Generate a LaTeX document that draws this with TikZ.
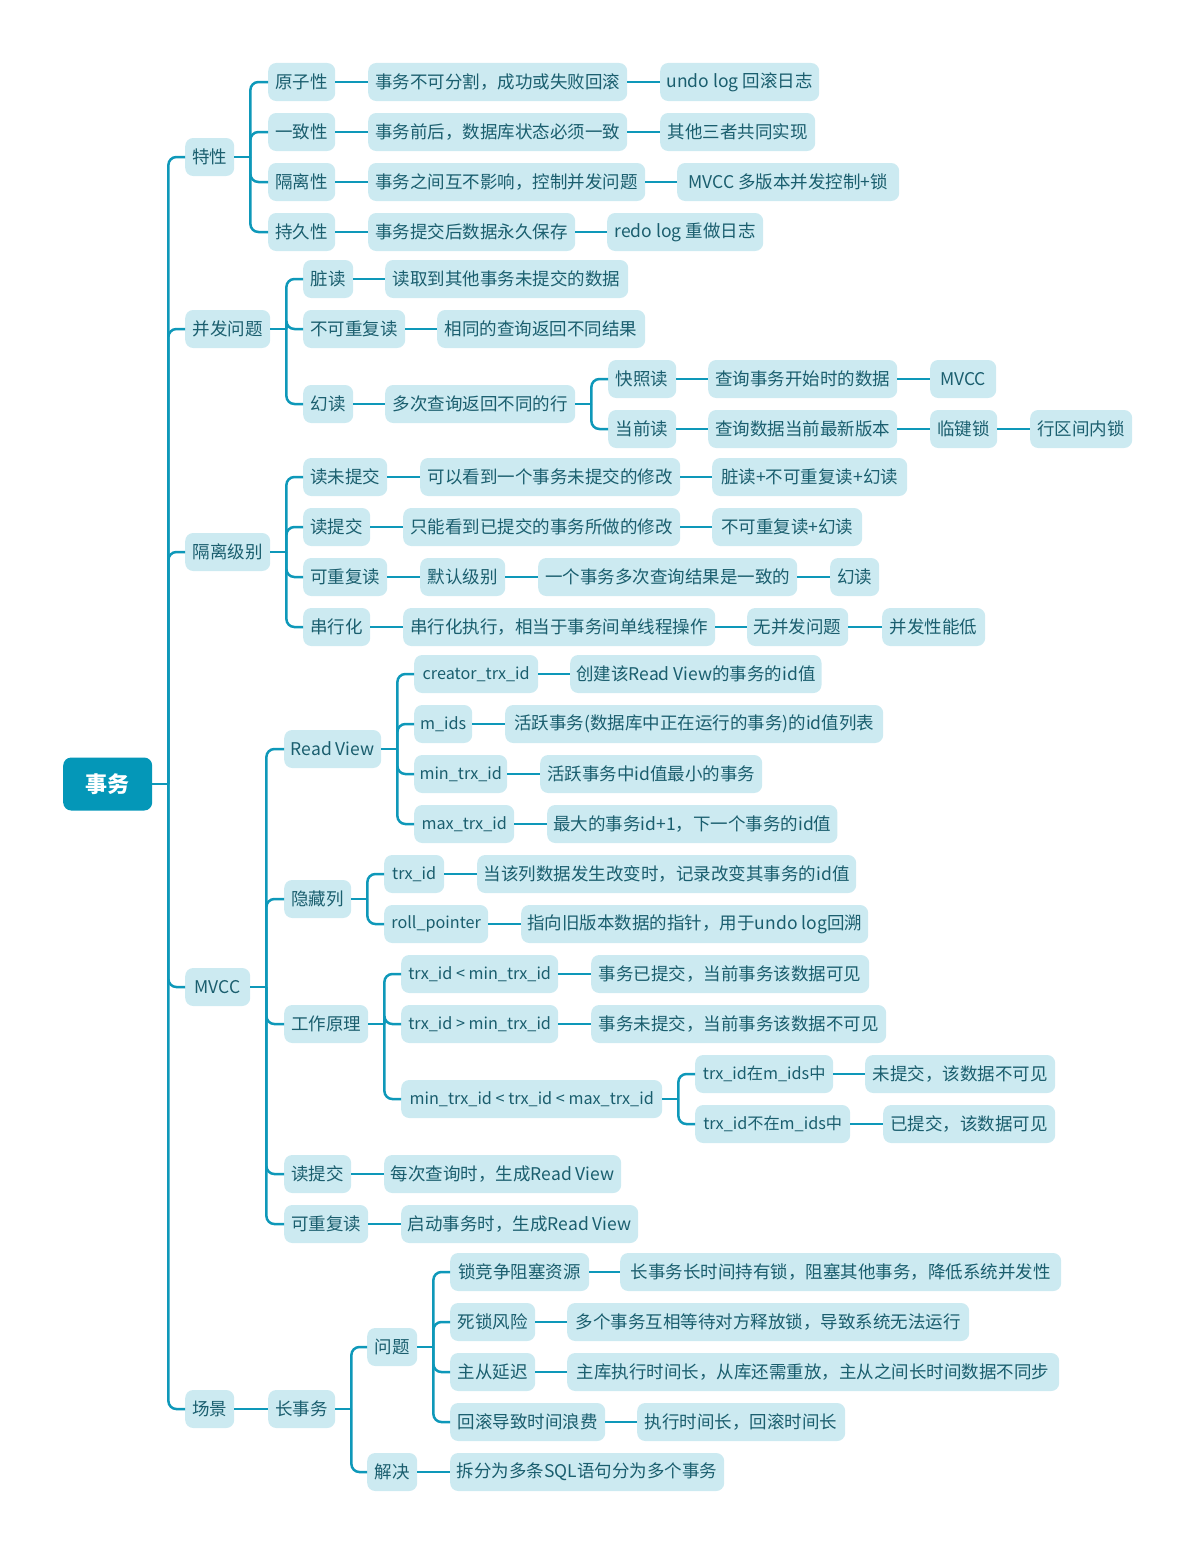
\documentclass[tikz,border=0pt]{standalone}
\usepackage{fontspec}
\setmainfont{Noto Sans CJK SC}
\definecolor{fillc}{HTML}{CCEAF1}
\definecolor{txtc}{HTML}{1A5E6E}
\definecolor{linec}{HTML}{0E98B9}
\definecolor{rootc}{HTML}{0497B8}
\newcommand\nd[6][]{\node[box, #1, minimum width=#5pt] (#2) at (#3,#4) {#6};}
\newcommand\tree[2]{%
  \draw[conn] (#1.east) -- ++(16,0) coordinate (#1-j);
  \foreach \c in {#2} {\draw[branch] (#1-j) |- (\c.west);}%
}
\begin{document}
\begin{tikzpicture}[x=1pt,y=-1pt,
  box/.style={fill=fillc, text=txtc, rounded corners=8pt, minimum height=38pt,
    inner xsep=6pt, inner ysep=0pt, anchor=west, font=\fontsize{17.5}{20}\selectfont},
  narrow/.style={inner xsep=4pt, font=\fontsize{16.2}{20}\selectfont},
  rootbox/.style={fill=rootc, text=white, rounded corners=8pt, minimum width=89pt,
    minimum height=53pt, anchor=west, font=\fontsize{22}{26}\selectfont\bfseries},
  conn/.style={draw=linec, line width=2.5pt},
  branch/.style={conn, rounded corners=8pt}]
\useasboundingbox (0,0) rectangle (1195,1555);

\node[rootbox] (r) at (63,784) {事务};

% level 1
\nd{a}{185}{157}{49}{特性}
\nd{b}{185}{329}{85}{并发问题}
\nd{c}{185}{552}{85}{隔离级别}
\nd{d}{185}{987}{65}{MVCC}
\nd{e}{185}{1409}{49}{场景}

% 特性
\nd{a1}{268}{82}{67}{原子性}
\nd{a1b}{368}{82}{259}{事务不可分割，成功或失败回滚}
\nd{a1c}{660}{82}{159}{undo log 回滚日志}
\nd{a2}{268}{132}{67}{一致性}
\nd{a2b}{368}{132}{259}{事务前后，数据库状态必须一致}
\nd{a2c}{660}{132}{155}{其他三者共同实现}
\nd{a3}{268}{182}{67}{隔离性}
\nd{a3b}{368}{182}{277}{事务之间互不影响，控制并发问题}
\nd{a3c}{677}{182}{222}{MVCC 多版本并发控制+锁}
\nd{a4}{268}{232}{67}{持久性}
\nd{a4b}{368}{232}{207}{事务提交后数据永久保存}
\nd{a4c}{607}{232}{156}{redo log 重做日志}

% 并发问题
\nd{b1}{303}{279}{50}{脏读}
\nd{b1b}{385}{279}{243}{读取到其他事务未提交的数据}
\nd{b2}{303}{329}{102}{不可重复读}
\nd{b2b}{437}{329}{208}{相同的查询返回不同结果}
\nd{b3}{303}{404}{50}{幻读}
\nd{b3b}{385}{404}{190}{多次查询返回不同的行}
\nd{b3c1}{608}{379}{68}{快照读}
\nd{b3c1b}{708}{379}{189}{查询事务开始时的数据}
\nd{b3c1c}{930}{379}{66}{MVCC}
\nd{b3c2}{608}{429}{68}{当前读}
\nd{b3c2b}{708}{429}{189}{查询数据当前最新版本}
\nd{b3c2c}{930}{429}{67}{临键锁}
\nd{b3c2d}{1030}{429}{102}{行区间内锁}

% 隔离级别
\nd{c1}{303}{477}{84}{读未提交}
\nd{c1b}{420}{477}{260}{可以看到一个事务未提交的修改}
\nd{c1c}{712}{477}{195}{脏读+不可重复读+幻读}
\nd{c2}{303}{527}{67}{读提交}
\nd{c2b}{403}{527}{277}{只能看到已提交的事务所做的修改}
\nd{c2c}{712}{527}{150}{不可重复读+幻读}
\nd{c3}{303}{577}{84}{可重复读}
\nd{c3b}{420}{577}{85}{默认级别}
\nd{c3c}{538}{577}{259}{一个事务多次查询结果是一致的}
\nd{c3d}{830}{577}{49}{幻读}
\nd{c4}{303}{627}{67}{串行化}
\nd{c4b}{403}{627}{312}{串行化执行，相当于事务间单线程操作}
\nd{c4c}{747}{627}{101}{无并发问题}
\nd{c4d}{882}{627}{103}{并发性能低}

% MVCC
\nd{d1}{284}{749}{97}{Read View}
\nd[narrow]{d1a}{414}{674}{124}{creator\_trx\_id}
\nd{d1a2}{570}{674}{251}{创建该Read View的事务的id值}
\nd[narrow]{d1b}{414}{724}{58}{m\_ids}
\nd{d1b2}{505}{724}{378}{活跃事务(数据库中正在运行的事务)的id值列表}
\nd[narrow]{d1c}{414}{774}{93}{min\_trx\_id}
\nd{d1c2}{540}{774}{222}{活跃事务中id值最小的事务}
\nd[narrow]{d1d}{414}{824}{100}{max\_trx\_id}
\nd{d1d2}{547}{824}{289}{最大的事务id+1，下一个事务的id值}
\nd{d2}{284}{899}{67}{隐藏列}
\nd[narrow]{d2a}{384}{874}{60}{trx\_id}
\nd{d2a2}{477}{874}{379}{当该列数据发生改变时，记录改变其事务的id值}
\nd[narrow]{d2b}{384}{924}{104}{roll\_pointer}
\nd{d2b2}{521}{924}{347}{指向旧版本数据的指针，用于undo log回溯}
\nd{d3}{284}{1024}{84}{工作原理}
\nd[narrow]{d3a}{401}{974}{157}{trx\_id < min\_trx\_id}
\nd{d3a2}{591}{974}{278}{事务已提交，当前事务该数据可见}
\nd[narrow]{d3b}{401}{1024}{157}{trx\_id > min\_trx\_id}
\nd{d3b2}{591}{1024}{295}{事务未提交，当前事务该数据不可见}
\nd[narrow]{d3c}{401}{1099}{261}{min\_trx\_id < trx\_id < max\_trx\_id}
\nd[narrow]{d3c1}{695}{1074}{138}{trx\_id在m\_ids中}
\nd{d3c1b}{865}{1074}{190}{未提交，该数据不可见}
\nd[narrow]{d3c2}{695}{1124}{155}{trx\_id不在m\_ids中}
\nd{d3c2b}{883}{1124}{172}{已提交，该数据可见}
\nd{d4}{284}{1174}{67}{读提交}
\nd{d4b}{384}{1174}{237}{每次查询时，生成Read View}
\nd{d5}{284}{1224}{84}{可重复读}
\nd{d5b}{401}{1224}{237}{启动事务时，生成Read View}

% 场景
\nd{e1}{268}{1409}{67}{长事务}
\nd{e1a}{367}{1347}{50}{问题}
\nd{e1a1}{450}{1272}{139}{锁竞争阻塞资源}
\nd{e1a1b}{620}{1272}{441}{长事务长时间持有锁，阻塞其他事务，降低系统并发性}
\nd{e1a2}{450}{1322}{85}{死锁风险}
\nd{e1a2b}{567}{1322}{402}{多个事务互相等待对方释放锁，导致系统无法运行}
\nd{e1a3}{450}{1372}{85}{主从延迟}
\nd{e1a3b}{567}{1372}{492}{主库执行时间长，从库还需重放，主从之间长时间数据不同步}
\nd{e1a4}{450}{1422}{155}{回滚导致时间浪费}
\nd{e1a4b}{637}{1422}{208}{执行时间长，回滚时间长}
\nd{e1b}{367}{1472}{50}{解决}
\nd{e1b2}{450}{1472}{274}{拆分为多条SQL语句分为多个事务}

% branching connectors
\tree{r}{a,b,c,d,e}
\tree{a}{a1,a2,a3,a4}
\tree{b}{b1,b2,b3}
\tree{b3b}{b3c1,b3c2}
\tree{c}{c1,c2,c3,c4}
\tree{d}{d1,d2,d3,d4,d5}
\tree{d1}{d1a,d1b,d1c,d1d}
\tree{d2}{d2a,d2b}
\tree{d3}{d3a,d3b,d3c}
\tree{d3c}{d3c1,d3c2}
\tree{e1}{e1a,e1b}
\tree{e1a}{e1a1,e1a2,e1a3,e1a4}

% straight connectors
\foreach \p/\q in {a1/a1b,a1b/a1c,a2/a2b,a2b/a2c,a3/a3b,a3b/a3c,a4/a4b,a4b/a4c,
  b1/b1b,b2/b2b,b3/b3b,b3c1/b3c1b,b3c1b/b3c1c,b3c2/b3c2b,b3c2b/b3c2c,b3c2c/b3c2d,
  c1/c1b,c1b/c1c,c2/c2b,c2b/c2c,c3/c3b,c3b/c3c,c3c/c3d,c4/c4b,c4b/c4c,c4c/c4d,
  d1a/d1a2,d1b/d1b2,d1c/d1c2,d1d/d1d2,d2a/d2a2,d2b/d2b2,d3a/d3a2,d3b/d3b2,
  d3c1/d3c1b,d3c2/d3c2b,d4/d4b,d5/d5b,e/e1,
  e1a1/e1a1b,e1a2/e1a2b,e1a3/e1a3b,e1a4/e1a4b,e1b/e1b2}
  {\draw[conn] (\p.east) -- (\q.west);}
\end{tikzpicture}
\end{document}
